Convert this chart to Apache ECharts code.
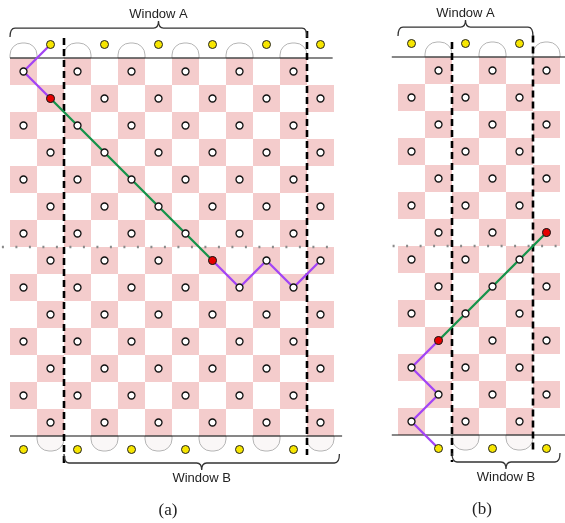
<!DOCTYPE html>
<html><head><meta charset="utf-8">
<script src="https://cdn.jsdelivr.net/npm/echarts@6/dist/echarts.min.js"></script>
<style>html,body{margin:0;padding:0;background:#fff}#c{width:565px;height:523px}</style>
</head><body><div id="c"></div>
<script>
// ---------- DATA ----------
// '1' = shaded cell holding a node
const boardA = [
  '101010101010','010101010101','101010101010','010101010101',
  '101010101010','010101010101','101010101010','010101010101',
  '101010101010','010101010101','101010101010','010101010101',
  '101010101010','010101010101'
];
const boardB = [
  '010101','101010','010101','101010','010101','101010','010101',
  '101010','010101','101010','010101','101010','010101','101010'
];
// yellow terminals (column index), top row = -1, bottom row = 14
const yellowTopA = [1, 3, 5, 7, 9, 11];
const yellowBottomA = [0, 2, 4, 6, 8, 10];
const yellowTopB = [0, 2, 4];
const yellowBottomB = [1, 3, 5];
// arches above / below the board (column index)
const archTopA = [0, 2, 4, 6, 8, 10];
const archBottomA = [1, 3, 5, 7, 9, 11];
const archTopB = [1, 3, 5];
const archBottomB = [2, 4];
// paths as [column, row]
const purpleA1 = [[1, -1], [0, 0], [1, 1]];
const greenA = [[1, 1], [7, 7]];
const purpleA2 = [[7, 7], [8, 8], [9, 7], [10, 8], [11, 7]];
const redA = [[1, 1], [7, 7]];
const greenB = [[5, 6], [1, 10]];
const purpleB = [[1, 10], [0, 11], [1, 12], [0, 13], [1, 14]];
const redB = [[5, 6], [1, 10]];
// window boundaries (column boundaries)
const windowA_A = [0, 11];
const windowB_A = [2, 12.2];
const windowA_B = [0, 5];
const windowB_B = [2, 6];
const dashedA = [2, 11];
const dashedB = [2, 5];
const splitRow = 7;
const labelWA = 'Window A';
const labelWB = 'Window B';
const captionA = '(a)';
const captionB = '(b)';

// ---------- RENDER ----------
const PINK = '#f4cccc';
const GREEN = '#14934a';
const PURPLE = '#a244f5';
const chart = echarts.init(document.getElementById('c'));

function cells(board) {
  const out = [];
  board.forEach((row, r) => { for (let c = 0; c < row.length; c++) if (row[c] === '1') out.push([c, r]); });
  return out;
}
const ctr = pts => pts.map(p => [p[0] + 0.5, p[1] + 0.5]);

function panel(i, P) {
  const ax = { xAxisIndex: i, yAxisIndex: i };
  const S = [];
  const nRows = P.board.length;
  // cells
  S.push({
    type: 'custom', ...ax, z: 1, silent: true, data: cells(P.board),
    renderItem: (p, api) => {
      const a = api.coord([api.value(0), api.value(1)]);
      const b = api.coord([api.value(0) + 1, api.value(1) + 1]);
      return { type: 'rect', shape: { x: a[0], y: a[1], width: b[0] - a[0], height: b[1] - a[1] }, style: { fill: PINK } };
    }
  });
  // arches
  const archData = P.archTop.map(c => [c, 0]).concat(P.archBottom.map(c => [c, 1]));
  S.push({
    type: 'custom', ...ax, z: 2, silent: true, data: archData,
    renderItem: (p, api) => {
      const c = api.value(0), bottom = api.value(1) === 1;
      const base = bottom ? nRows : 0;
      const a = api.coord([c, base]), b = api.coord([c + 1, base]);
      const h = 15, w = b[0] - a[0];
      return {
        type: 'rect',
        shape: { x: a[0], y: bottom ? a[1] : a[1] - h, width: w, height: h, r: bottom ? [0, 0, 12, 12] : [12, 12, 0, 0] },
        style: { fill: bottom ? '#faf7f7' : '#fff', stroke: '#b5b5b5', lineWidth: 1 }
      };
    }
  });
  // guide lines (solid board edges, dotted split, dashed window bounds)
  S.push({
    type: 'custom', ...ax, z: 3, silent: true, data: [[0, 0]],
    renderItem: (p, api) => {
      const L = (x0, y0, x1, y1, style) => {
        const a = api.coord([x0, y0]), b = api.coord([x1, y1]);
        return { type: 'line', shape: { x1: a[0], y1: a[1], x2: b[0], y2: b[1] }, style };
      };
      const solid = { stroke: '#111', lineWidth: 1.2 };
      const dotted = { stroke: '#8a8a8a', lineWidth: 2.5, lineDash: [2, 11.5] };
      const dashed = { stroke: '#000', lineWidth: 2.6, lineDash: [7, 4] };
      const ch = [
        L(P.hx[0], 0, P.hx[1], 0, solid),
        L(P.hx[0], nRows, P.hx[2], nRows, solid),
        L(P.dx[0], splitRow, P.dx[1], splitRow, dotted),
        L(P.dashed[0], P.dy0[0], P.dashed[0], P.dy1[0], dashed),
        L(P.dashed[1], P.dy0[1], P.dashed[1], P.dy1[1], dashed)
      ];
      return { type: 'group', children: ch };
    }
  });
  // braces + labels
  S.push({
    type: 'custom', ...ax, z: 3, silent: true, data: [[0, 0]],
    renderItem: (p, api) => {
      const brace = (x0, x1, yv, e) => {
        const a = api.coord([x0, yv]), b = api.coord([x1, yv]);
        const y = a[1], xm = (a[0] + b[0]) / 2, r = 5, end = 9, tip = 7;
        const d = `M${a[0]},${y + e * end} Q${a[0]},${y} ${a[0] + r},${y} L${xm - r},${y} Q${xm},${y} ${xm},${y - e * tip} Q${xm},${y} ${xm + r},${y} L${b[0] - r},${y} Q${b[0]},${y} ${b[0]},${y + e * end}`;
        return { type: 'path', shape: { pathData: d }, style: { fill: null, stroke: '#333', lineWidth: 1.3 } };
      };
      const T = (txt, x, y, font) => {
        const q = api.coord([x, y]);
        return { type: 'text', style: { text: txt, x: q[0], y: q[1], font, fill: '#222', align: 'center', verticalAlign: 'middle' } };
      };
      const midA = (P.winA[0] + P.winA[1]) / 2, midB = (P.winB[0] + P.winB[1]) / 2;
      return {
        type: 'group', children: [
          brace(P.winA[0], P.winA[1], -1.11, 1),
          brace(P.winB[0], P.winB[1], nRows + 1.0, -1),
          T(labelWA, midA, -1.62, '13px "Liberation Sans", Arial, sans-serif'),
          T(labelWB, midB, nRows + 1.58, '13px "Liberation Sans", Arial, sans-serif'),
          T(P.caption, P.capX, nRows + 2.76, '17px "Liberation Serif", "Times New Roman", serif')
        ]
      };
    }
  });
  // paths
  const lineS = (pts, color) => ({
    type: 'line', ...ax, z: 4, silent: true, clip: false, symbol: 'none', animation: false,
    data: ctr(pts), lineStyle: { color, width: 2.3 }
  });
  P.green.forEach(g => S.push(lineS(g, GREEN)));
  P.purple.forEach(g => S.push(lineS(g, PURPLE)));
  // nodes
  S.push({
    type: 'scatter', ...ax, z: 5, silent: true, clip: false, symbolSize: 7,
    data: ctr(cells(P.board)), itemStyle: { color: '#fff', borderColor: '#111', borderWidth: 1.3, opacity: 1 }
  });
  S.push({
    type: 'scatter', ...ax, z: 6, silent: true, clip: false, symbolSize: 8,
    data: P.yTop.map(c => [c + 0.5, -0.5]).concat(P.yBot.map(c => [c + 0.5, nRows + 0.5])),
    itemStyle: { color: '#f7e600', borderColor: '#222', borderWidth: 1, opacity: 1 }
  });
  S.push({
    type: 'scatter', ...ax, z: 7, silent: true, clip: false, symbolSize: 8,
    data: ctr(P.red), itemStyle: { color: '#e60000', borderColor: '#222', borderWidth: 1, opacity: 1 }
  });
  return S;
}

const series = [].concat(
  panel(0, {
    board: boardA, archTop: archTopA, archBottom: archBottomA, yTop: yellowTopA, yBot: yellowBottomA,
    green: [greenA], purple: [purpleA1, purpleA2], red: redA, dashed: dashedA,
    dy0: [-0.74, -1.0], dy1: [15.0, 14.7], hx: [0, 11.95, 12.3], dx: [-0.3, 12.15],
    winA: windowA_A, winB: windowB_A, caption: captionA, capX: 5.85
  }),
  panel(1, {
    board: boardB, archTop: archTopB, archBottom: archBottomB, yTop: yellowTopB, yBot: yellowBottomB,
    green: [greenB], purple: [purpleB], red: redB, dashed: dashedB,
    dy0: [-0.56, -0.8], dy1: [15.0, 14.63], hx: [-0.23, 6.25, 6.25], dx: [-0.2, 6.25],
    winA: windowA_B, winB: windowB_B, caption: captionB, capX: 3.11
  })
);

const axX = (min, max, gi) => ({ type: 'value', gridIndex: gi, min, max, show: false, splitLine: { show: false } });
const axY = (gi) => ({ type: 'value', gridIndex: gi, min: 0, max: 14, inverse: true, show: false, splitLine: { show: false } });

chart.setOption({
  animation: false,
  backgroundColor: '#fff',
  grid: [
    { left: 10, top: 58, width: 324, height: 378 },
    { left: 398, top: 57, width: 162, height: 378 }
  ],
  xAxis: [axX(0, 12, 0), axX(0, 6, 1)],
  yAxis: [axY(0), axY(1)],
  series
});
</script>
</body></html>
